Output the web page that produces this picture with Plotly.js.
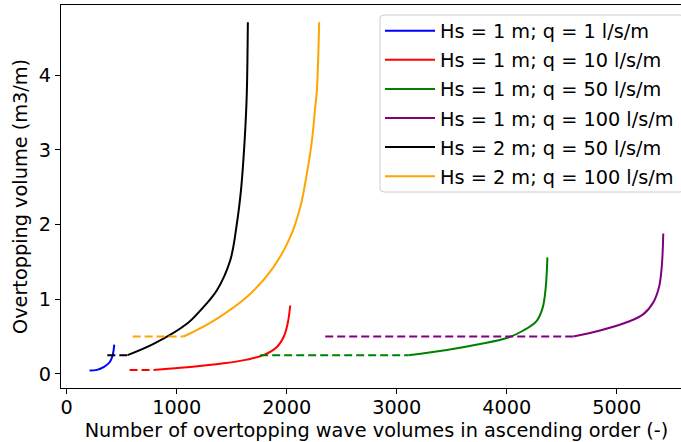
<!DOCTYPE html>
<html>
<head>
<meta charset="utf-8">
<script src="https://cdn.plot.ly/plotly-3.0.1.min.js"></script>
<style>
html, body { margin: 0; padding: 0; overflow: hidden; background: #fff; }
#chart { width: 700px; height: 442px; }
</style>
</head>
<body>
<div id="chart"></div>
<script>
// Series names (legend)
const seriesNames = [
  "Hs = 1 m; q = 1 l/s/m",
  "Hs = 1 m; q = 10 l/s/m",
  "Hs = 1 m; q = 50 l/s/m",
  "Hs = 1 m; q = 100 l/s/m",
  "Hs = 2 m; q = 50 l/s/m",
  "Hs = 2 m; q = 100 l/s/m"
];
const seriesColors = ["#0000ff", "#ff0000", "#008000", "#800080", "#000000", "#ffa500"];

// Solid curves: ranked overtopping volumes
const blueX = [209, 276, 336, 391, 418, 433];
const blueY = [0.045, 0.053, 0.09, 0.155, 0.245, 0.39];
const redX = [790, 1124, 1426, 1638, 1789, 1911, 1977, 2011, 2032];
const redY = [0.05, 0.09, 0.14, 0.19, 0.25, 0.36, 0.51, 0.69, 0.915];
const greenX = [3106, 3455, 3757, 4000, 4151, 4272, 4327, 4354, 4369];
const greenY = [0.25, 0.32, 0.40, 0.48, 0.58, 0.71, 0.89, 1.16, 1.56];
const purpleX = [4605, 4847, 5090, 5241, 5332, 5383, 5408, 5422];
const purpleY = [0.50, 0.58, 0.69, 0.80, 0.96, 1.16, 1.43, 1.88];
const blackX = [554, 790, 1093, 1216, 1366, 1487, 1547, 1584, 1608, 1626, 1638, 1647];
const blackY = [0.25, 0.40, 0.67, 0.85, 1.12, 1.52, 2.01, 2.45, 2.90, 3.35, 3.79, 4.71];
const orangeX = [1063, 1335, 1668, 1880, 2032, 2123, 2183, 2229, 2259, 2274, 2295];
const orangeY = [0.50, 0.71, 1.07, 1.43, 1.83, 2.23, 2.68, 3.12, 3.57, 3.79, 4.71];

// Dashed threshold segments
const redDashX = [572, 790];     const redDashY = [0.05, 0.05];
const greenDashX = [1759, 3106]; const greenDashY = [0.25, 0.25];
const purpleDashX = [2350, 4605]; const purpleDashY = [0.5, 0.5];
const blackDashX = [370, 554];   const blackDashY = [0.25, 0.25];
const orangeDashX = [600, 1063]; const orangeDashY = [0.5, 0.5];

// Axis ticks
const xTicks = [0, 1000, 2000, 3000, 4000, 5000];
const yTicks = [0, 1, 2, 3, 4];

const solid = [
  [blueX, blueY], [redX, redY], [greenX, greenY],
  [purpleX, purpleY], [blackX, blackY], [orangeX, orangeY]
];
const dashed = [
  null, [redDashX, redDashY], [greenDashX, greenDashY],
  [purpleDashX, purpleDashY], [blackDashX, blackDashY], [orangeDashX, orangeDashY]
];

const traces = [];
solid.forEach((d, i) => {
  if (dashed[i]) {
    traces.push({
      x: dashed[i][0], y: dashed[i][1], mode: 'lines', type: 'scatter', showlegend: false,
      legendgroup: 'g' + i, hoverinfo: 'skip',
      line: { color: seriesColors[i], width: 2, dash: '8px,4px' }
    });
  }
  traces.push({
    x: d[0], y: d[1], mode: 'lines', type: 'scatter', name: seriesNames[i],
    legendgroup: 'g' + i,
    line: { color: seriesColors[i], width: 2, shape: 'spline', smoothing: 1.0 }
  });
});

const font = { family: 'DejaVu Sans', size: 19.3, color: '#000' };

// plot area in page pixels (for legend box placement)
const plotL = 61, plotR = 692, plotT = 5, plotB = 388;
const px2x = p => (p - plotL) / (plotR - plotL);
const px2y = p => (plotB - p) / (plotB - plotT);
function roundedBox(x0, y0, x1, y1, r) {
  const X = px2x, Y = px2y;
  return 'M' + X(x0 + r) + ',' + Y(y0) +
    ' L' + X(x1 - r) + ',' + Y(y0) + ' Q' + X(x1) + ',' + Y(y0) + ' ' + X(x1) + ',' + Y(y0 + r) +
    ' L' + X(x1) + ',' + Y(y1 - r) + ' Q' + X(x1) + ',' + Y(y1) + ' ' + X(x1 - r) + ',' + Y(y1) +
    ' L' + X(x0 + r) + ',' + Y(y1) + ' Q' + X(x0) + ',' + Y(y1) + ' ' + X(x0) + ',' + Y(y1 - r) +
    ' L' + X(x0) + ',' + Y(y0 + r) + ' Q' + X(x0) + ',' + Y(y0) + ' ' + X(x0 + r) + ',' + Y(y0) + ' Z';
}

const layout = {
  width: 700, height: 442,
  margin: { l: plotL, r: 700 - plotR, t: plotT, b: 442 - plotB },
  paper_bgcolor: '#fff', plot_bgcolor: '#fff',
  font: font,
  showlegend: true,
  legend: {
    x: px2x(380), y: px2y(11.7), xanchor: 'left', yanchor: 'top',
    bgcolor: 'rgba(0,0,0,0)', borderwidth: 0,
    font: font, traceorder: 'grouped', tracegroupgap: 1, itemwidth: 50
  },
  shapes: [{
    type: 'path', xref: 'paper', yref: 'paper', layer: 'above',
    path: roundedBox(380, 15, 684, 192, 4),
    fillcolor: 'rgba(255,255,255,0.8)', line: { color: '#cccccc', width: 1 }
  }],
  xaxis: {
    range: [-51, 5683], tickvals: xTicks, ticktext: xTicks.map(String),
    showgrid: false, zeroline: false, showline: true, linecolor: '#000', linewidth: 1,
    mirror: true, ticks: 'outside', ticklen: 5, tickcolor: '#000', ticklabelstandoff: -3,
    title: { text: 'Number of overtopping wave volumes in ascending order (-)', font: font, standoff: 5 },
    automargin: false
  },
  yaxis: {
    range: [-0.19, 4.94], tickvals: yTicks, ticktext: yTicks.map(String),
    showgrid: false, zeroline: false, showline: true, linecolor: '#000', linewidth: 1,
    mirror: true, ticks: 'outside', ticklen: 5, tickcolor: '#000',
    title: { text: 'Overtopping volume (m3/m)', font: font, standoff: 6 },
    automargin: false
  }
};

Plotly.newPlot('chart', traces, layout, { displayModeBar: false, staticPlot: true });
</script>
</body>
</html>
